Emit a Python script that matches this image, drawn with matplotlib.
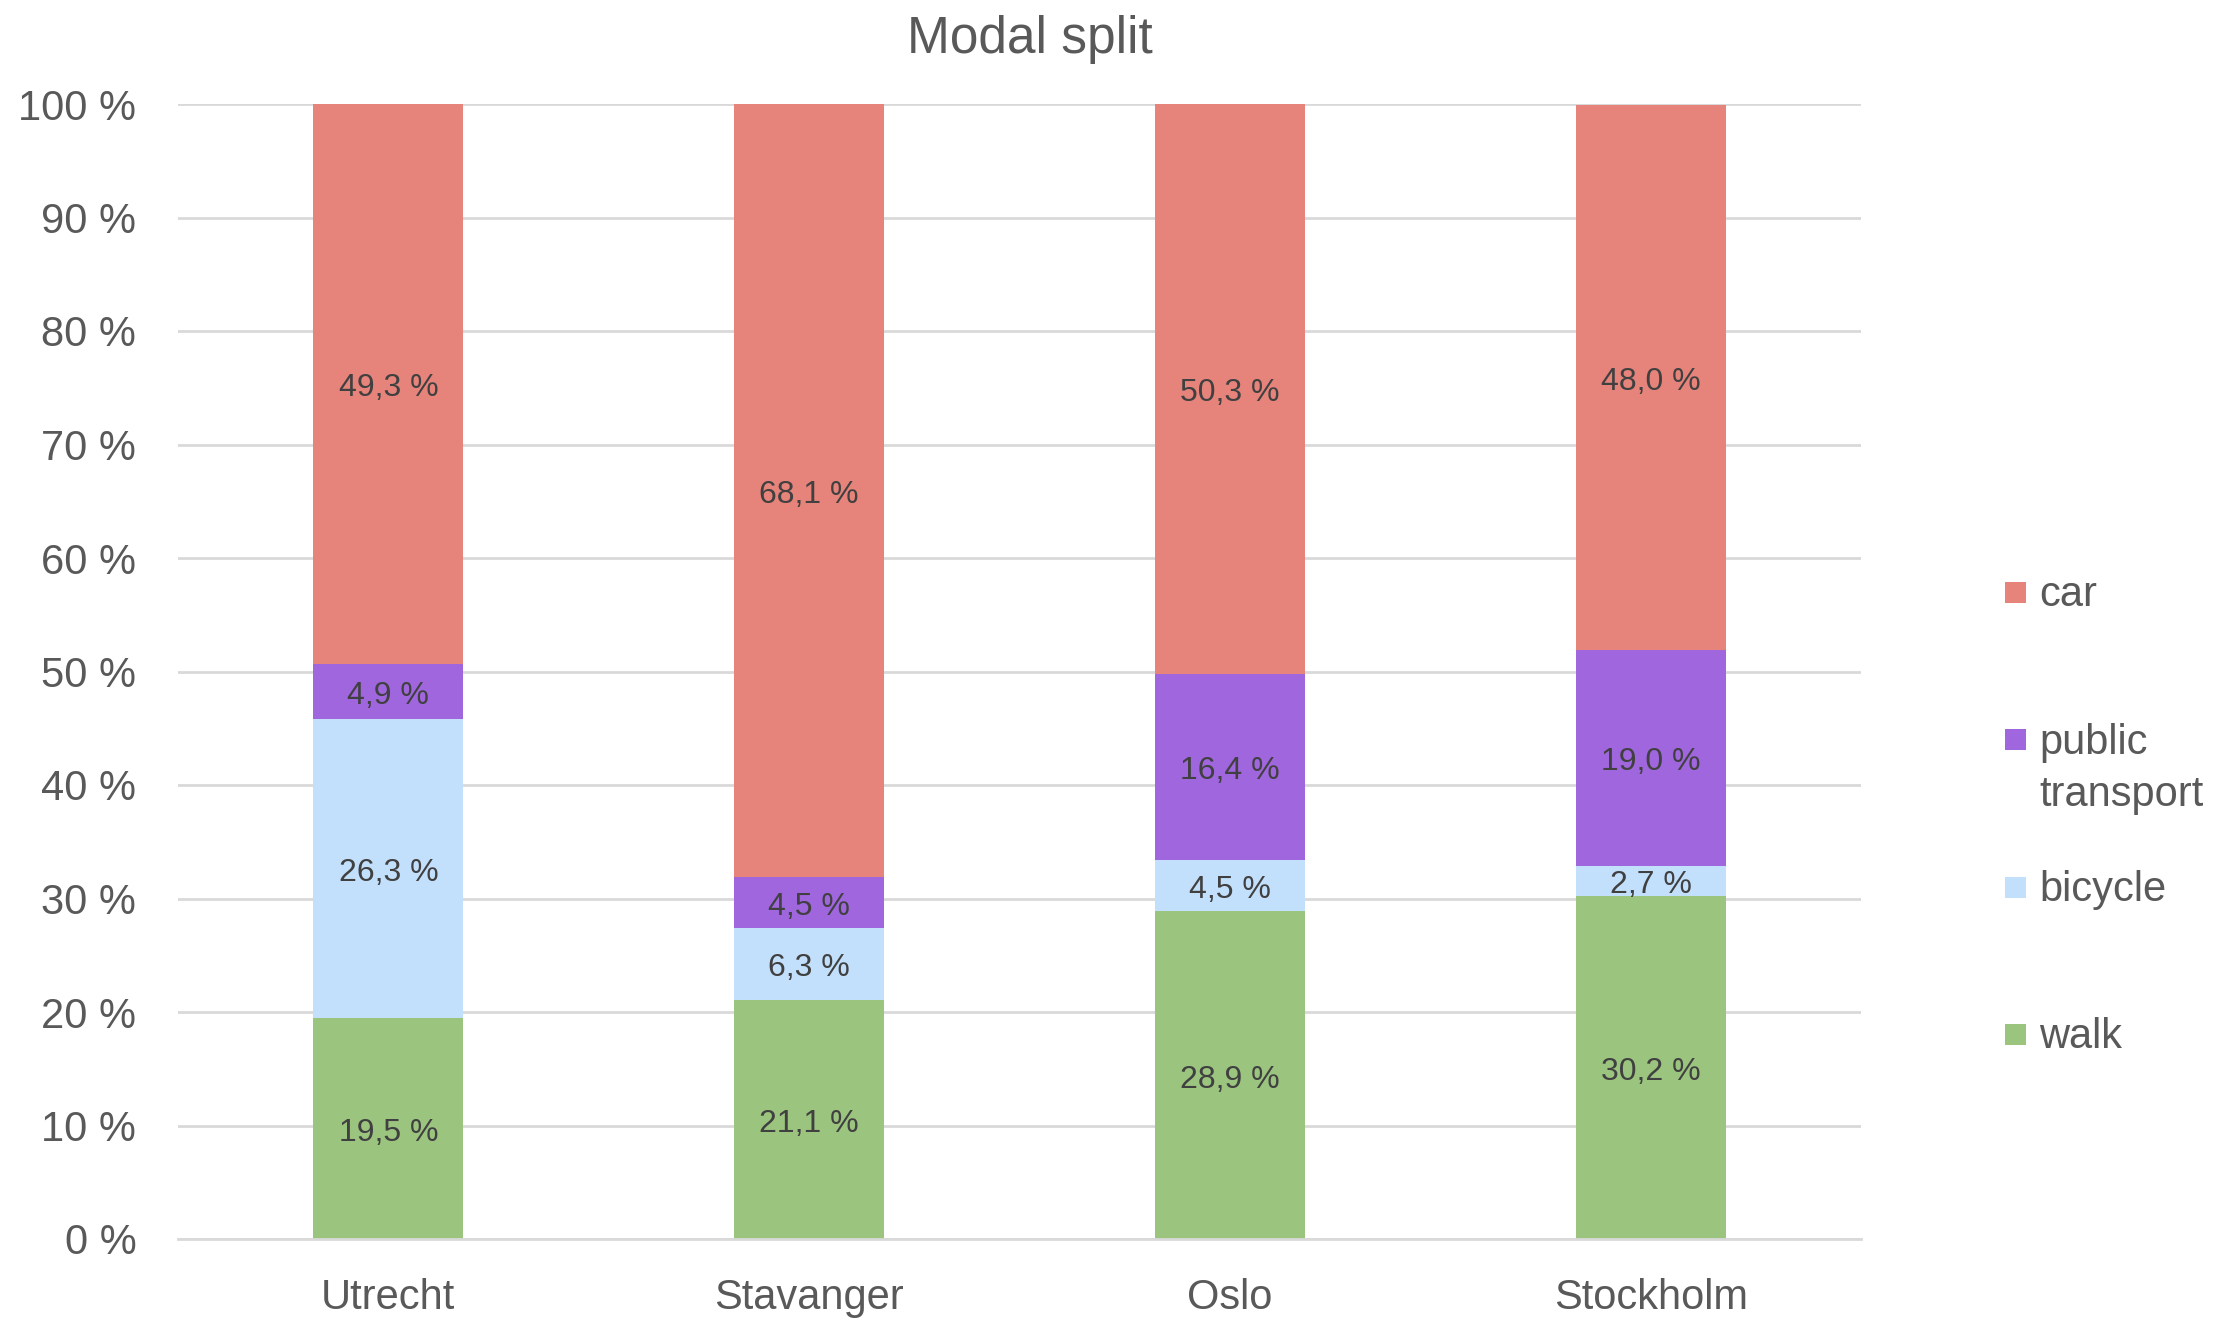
import matplotlib
matplotlib.use("Agg")
import matplotlib.pyplot as plt
from matplotlib.patches import Rectangle
import numpy as np

plt.rcParams['font.family'] = ['Liberation Sans Narrow', 'Liberation Sans', 'DejaVu Sans']

cities = ["Utrecht", "Stavanger", "Oslo", "Stockholm"]
walk = [19.5, 21.1, 28.9, 30.2]
bicycle = [26.3, 6.3, 4.5, 2.7]
public_transport = [4.9, 4.5, 16.4, 19.0]
car = [49.3, 68.1, 50.3, 48.0]

series_names = ["walk", "bicycle", "public\ntransport", "car"]
series_values = [walk, bicycle, public_transport, car]
colors = ["#9BC47F", "#C2E0FC", "#A066DE", "#E6837A"]
yticks = [0, 10, 20, 30, 40, 50, 60, 70, 80, 90, 100]

W, H = 2236, 1321
fig = plt.figure(figsize=(W / 100, H / 100), dpi=100)
ax = fig.add_axes([178 / W, 1 - 1239 / H, (1861 - 178) / W, (1239 - 104) / H])

text_grey = "#595959"
label_grey = "#404040"

x = np.arange(len(cities))
bottom = np.zeros(len(cities))
for name, vals, col in zip(series_names, series_values, colors):
    vals = np.array(vals)
    ax.bar(x, vals, width=0.356, bottom=bottom, color=col, zorder=2, linewidth=0)
    for xi, b, v in zip(x, bottom, vals):
        ax.text(xi, b + v / 2 - 0.4, f"{v:.1f} %".replace(".", ","), ha="center", va="center",
                fontsize=23, color=label_grey, zorder=3)
    bottom += vals

ax.set_xlim(-0.5, len(cities) - 0.5)
ax.set_ylim(0, 100)
ax.set_yticks(yticks)
ax.set_yticklabels([f"{t} %" for t in yticks], fontsize=30, color=text_grey)
ax.set_xticks(x)
ax.set_xticklabels(cities, fontsize=30, color=text_grey)
ax.tick_params(axis="y", length=0, pad=30)
ax.tick_params(axis="x", length=0, pad=28)
ax.grid(axis="y", color="#D9D9D9", linewidth=2, zorder=0)
for s in ["top", "right", "left"]:
    ax.spines[s].set_visible(False)
ax.spines["bottom"].set_color("#D9D9D9")
ax.spines["bottom"].set_linewidth(2)

fig.text(1030 / W, 1 - 40 / H, "Modal split", ha="center", va="center",
         fontsize=37, color=text_grey)

# legend, top entry first
legend_y = [592, 740, 887, 1034]
for name, col, yc in zip(series_names[::-1], colors[::-1], legend_y):
    sq = 21
    fig.add_artist(Rectangle((2005 / W, 1 - (yc + sq / 2) / H), sq / W, sq / H,
                             transform=fig.transFigure, color=col, linewidth=0))
    fig.text(2039 / W, 1 - (yc - 17) / H, name, ha="left", va="top",
             fontsize=30, color=text_grey, linespacing=1.4)

fig.savefig("out.png", dpi=100, facecolor="white")
